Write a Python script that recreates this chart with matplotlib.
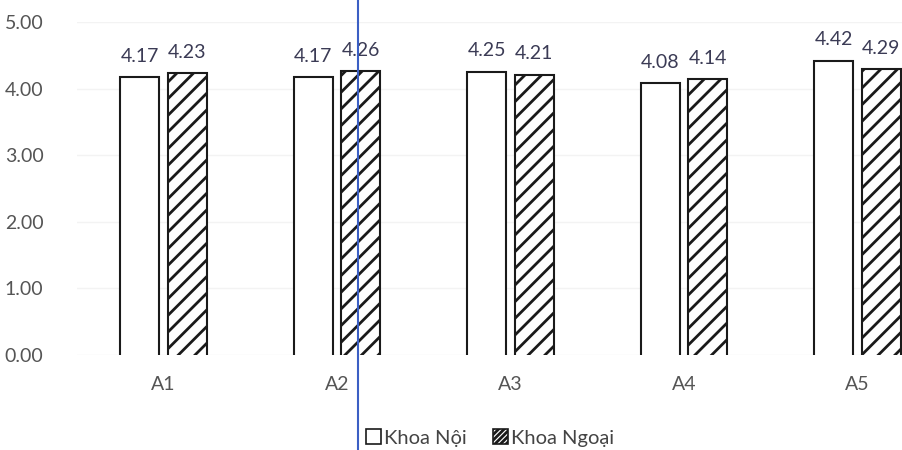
import matplotlib.pyplot as plt
import matplotlib.patches as mpatches
import numpy as np

plt.rcParams['font.family'] = ['Lato', 'DejaVu Sans']
plt.rcParams['hatch.linewidth'] = 2.0

# data
cats = ['A1', 'A2', 'A3', 'A4', 'A5']
khoa_noi = [4.17, 4.17, 4.25, 4.08, 4.42]
khoa_ngoai = [4.23, 4.26, 4.21, 4.14, 4.29]
yticks = [0, 1, 2, 3, 4, 5]

fig = plt.figure(figsize=(9.03, 4.5), dpi=100)
# axes wider than the figure: the scan cuts the right side off
ax = fig.add_axes([76.75 / 903, 95 / 450, 867.5 / 903, 333 / 450])

x = np.arange(len(cats))
w = 0.225
off = 0.138
# bars start a bit below 0 so their bottom edge gets clipped (open bottom like the original)
b1 = ax.bar(x - off, np.array(khoa_noi) + 0.1, w, bottom=-0.1, color='white',
            edgecolor='#1a1a1a', linewidth=1.5)
b2 = ax.bar(x + off, np.array(khoa_ngoai) + 0.1, w, bottom=-0.1, color='white',
            edgecolor='#1a1a1a', linewidth=1.5, hatch='//')

for xi, v in zip(x - off, khoa_noi):
    ax.annotate('%.2f' % v, (xi, v), xytext=(0, 9), textcoords='offset points',
                ha='center', va='bottom', fontsize=14, color='#3b3b55')
for xi, v in zip(x + off, khoa_ngoai):
    ax.annotate('%.2f' % v, (xi, v), xytext=(0, 9), textcoords='offset points',
                ha='center', va='bottom', fontsize=14, color='#3b3b55')

ax.set_ylim(0, 5)
ax.set_xlim(-0.5, 4.5)
ax.set_yticks(yticks)
ax.set_yticklabels(['%.2f' % t for t in yticks])
ax.set_xticks(x)
ax.set_xticklabels(cats)
ax.tick_params(axis='both', length=0, labelsize=14, labelcolor='#555555')
ax.tick_params(axis='x', pad=15)
ax.tick_params(axis='y', pad=24)
ax.yaxis.grid(True, color='#f3f3f3', linewidth=1)
ax.set_axisbelow(True)
for s in ax.spines.values():
    s.set_visible(False)

h1 = mpatches.Patch(facecolor='white', edgecolor='#1a1a1a', linewidth=1.2, label='Khoa Nội')
h2 = mpatches.Patch(facecolor='white', edgecolor='#1a1a1a', linewidth=1.2, hatch='//////',
                    label='Khoa Ngoại')
fig.legend(handles=[h1, h2], loc='center', bbox_to_anchor=(490 / 903, 12 / 450),
           ncol=2, frameon=False, fontsize=14.5, handlelength=0.75, handleheight=0.75,
           handletextpad=0.15, columnspacing=1.3, labelcolor='#444444')

# blue scan line from the original picture
fig.add_artist(plt.Line2D([358 / 903, 358 / 903], [0, 1], color='#3b5fc4',
                          linewidth=1.5, transform=fig.transFigure))

fig.savefig('out.png', dpi=100, facecolor='white')
